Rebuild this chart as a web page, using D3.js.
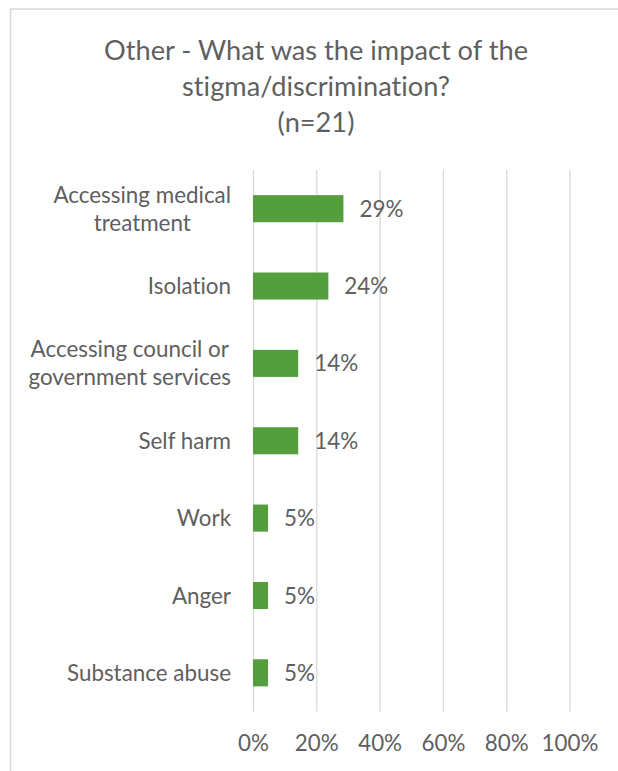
<!DOCTYPE html>
<html>
<head>
<meta charset="utf-8">
<script src="https://cdn.jsdelivr.net/npm/d3@7"></script>
<style>
  html, body { margin: 0; padding: 0; background: #fff; }
  svg { display: block; }
  text { font-family: Lato, "Open Sans", sans-serif; fill: #5f5f5f; font-weight: 400; font-variant-ligatures: none; }
</style>
</head>
<body>
<svg id="chart" width="618" height="771"></svg>
<script>
// Survey responses: impact of stigma/discrimination ("Other" group)
const titleLines = ["Other - What was the impact of the", "stigma/discrimination?", "(n=21)"];
const respondents = 21;
const categories = [
  "Accessing medical\ntreatment",
  "Isolation",
  "Accessing council or\ngovernment services",
  "Self harm",
  "Work",
  "Anger",
  "Substance abuse"
];
const counts = [6, 5, 3, 3, 1, 1, 1];
const tickValues = [0, 0.2, 0.4, 0.6, 0.8, 1];

const rows = categories.map((c, i) => ({ category: c, value: counts[i] / respondents }));

const W = 618, H = 771;
const plot = { left: 253, right: 569.5, top: 170, bottom: 711.5 };
const pct = d3.format(".0%");
const barColor = "#549e3d";
const gridColor = "#d9d9d9";
const textColor = "#5f5f5f";
const fontSize = "22.4px";

const svg = d3.select("#chart");

svg.append("rect").attr("width", W).attr("height", H).attr("fill", "#fff");

// chart frame (runs off the right and bottom edges)
svg.append("rect")
  .attr("x", 10.5).attr("y", 9)
  .attr("width", W + 20).attr("height", H + 20)
  .attr("fill", "none")
  .attr("stroke", gridColor)
  .attr("stroke-width", 1.6);

// title
const title = svg.append("text")
  .attr("text-anchor", "middle")
  .style("font-size", "27.2px");
titleLines.forEach((t, i) => {
  title.append("tspan").attr("x", 316).attr("y", 60 + i * 36).text(t);
});

const x = d3.scaleLinear().domain([0, 1]).range([plot.left, plot.right]);
const y = d3.scaleBand()
  .domain(categories)
  .range([plot.top, plot.bottom])
  .paddingInner(0.65)
  .paddingOuter(0.325);

// vertical gridlines
const grid = svg.append("g")
  .attr("transform", `translate(0,${plot.bottom})`)
  .call(d3.axisBottom(x).tickValues(tickValues).tickSize(-(plot.bottom - plot.top)).tickFormat(""));
grid.select(".domain").remove();
grid.selectAll(".tick line").attr("stroke", gridColor).attr("stroke-width", 1.3);

// x axis labels
const xAxis = svg.append("g")
  .attr("transform", `translate(0,${plot.bottom})`)
  .call(d3.axisBottom(x).tickValues(tickValues).tickSize(0).tickPadding(24).tickFormat(pct));
xAxis.select(".domain").remove();
xAxis.selectAll("text")
  .attr("fill", textColor)
  .style("font-family", "Lato, 'Open Sans', sans-serif")
  .style("font-size", fontSize);

// bars
svg.append("g").selectAll("rect")
  .data(rows)
  .join("rect")
  .attr("x", x(0))
  .attr("y", d => y(d.category))
  .attr("width", d => x(d.value) - x(0))
  .attr("height", y.bandwidth())
  .attr("fill", barColor);

// value labels
svg.append("g").selectAll("text")
  .data(rows)
  .join("text")
  .attr("x", d => x(d.value) + 16)
  .attr("y", d => y(d.category) + y.bandwidth() / 2)
  .attr("dy", "0.36em")
  .style("font-size", fontSize)
  .text(d => pct(d.value));

// category labels: multi-line, lines centred within a right-aligned block
const labelRight = 231;
const lineGap = 28;
const catG = svg.append("g");
rows.forEach(d => {
  const lines = d.category.split("\n");
  const cy = y(d.category) + y.bandwidth() / 2;
  const t = catG.append("text")
    .attr("text-anchor", "middle")
    .style("font-size", fontSize);
  const spans = lines.map((ln, i) =>
    t.append("tspan")
      .attr("y", cy + (i - (lines.length - 1) / 2) * lineGap)
      .attr("dy", "0.36em")
      .text(ln));
  const maxW = d3.max(spans, s => s.node().getComputedTextLength());
  spans.forEach(s => s.attr("x", labelRight - maxW / 2));
});
</script>
</body>
</html>
